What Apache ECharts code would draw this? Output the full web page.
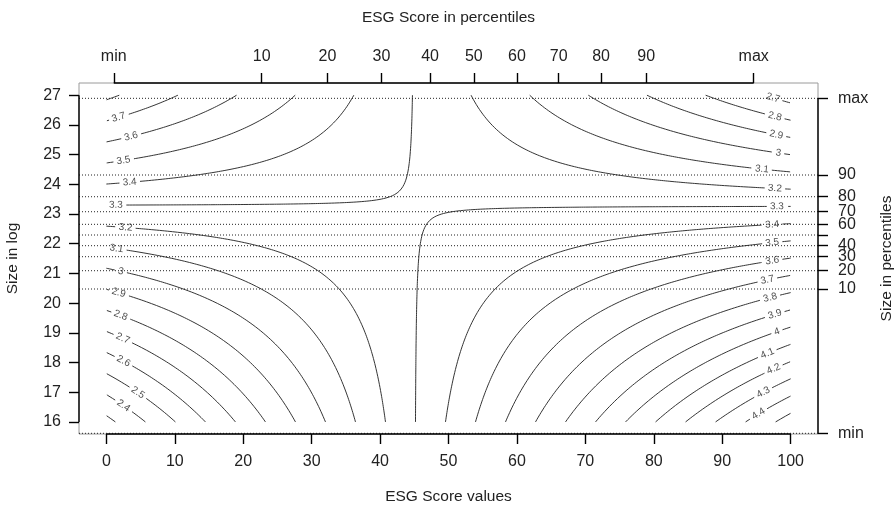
<!DOCTYPE html>
<html><head><meta charset="utf-8">
<script src="https://cdn.jsdelivr.net/npm/echarts@6/dist/echarts.min.js"></script>
<style>html,body{margin:0;padding:0;background:#fff}#c{width:895px;height:511px}</style>
</head><body><div id="c"></div>
<script>
// ---------------- data ----------------
// fitted surface: predicted value at the corners of the (ESG score, size in log) grid
const esgGrid = [0, 100];
const sizeGrid = [16, 27];
const predicted = [[2.270, 3.822], [4.550, 2.655]]; // predicted[esgIndex][sizeIndex]
const levels = [2.3, 2.4, 2.5, 2.6, 2.7, 2.8, 2.9, 3, 3.1, 3.2, 3.3, 3.4, 3.5, 3.6, 3.7, 3.8, 3.9, 4, 4.1, 4.2, 4.3, 4.4, 4.5];
const esgTickValues = [0, 10, 20, 30, 40, 50, 60, 70, 80, 90, 100];
const sizeTickValues = [16, 17, 18, 19, 20, 21, 22, 23, 24, 25, 26, 27];
const esgPctLabels = ['min', '10', '20', '30', '40', '50', '60', '70', '80', '90', 'max'];
const esgPctValues = [1.08, 22.7, 32.3, 40.2, 47.3, 53.7, 60.0, 66.1, 72.3, 78.9, 94.6];
const sizePctLabels = ['min', '10', '20', '30', '40', '50', '60', '70', '80', '90', 'max'];
const sizePctValues = [15.616, 20.475, 21.091, 21.562, 21.933, 22.293, 22.653, 23.077, 23.582, 24.313, 26.895];

// ---------------- placement / style (not data) ----------------
const hiddenSizePctLabels = ['50'];
const labelLeftX = {'2.4':2.5,'2.5':4.6,'2.6':2.5,'2.7':2.4,'2.8':2.1,'2.9':1.8,'3':2.1,'3.1':1.5,'3.2':2.8,'3.3':1.4,'3.4':3.4,'3.5':2.5,'3.6':3.6,'3.7':1.8};
const labelRightX = {'2.7':97.4,'2.8':97.7,'2.9':97.9,'3':98.2,'3.1':95.8,'3.2':97.7,'3.3':98.0,'3.4':97.3,'3.5':97.3,'3.6':97.3,'3.7':96.6,'3.8':97.0,'3.9':97.7,'4':98.0,'4.1':96.6,'4.2':97.5,'4.3':96.0,'4.4':95.3};
const XMIN = -4, XMAX = 104, YMIN = 15.593, YMAX = 27.411;
const FONT = '"Liberation Sans", Arial, Helvetica, sans-serif';
const TXT = {color:'#222', fontSize:16, fontFamily:FONT};
const TITLE = {color:'#222', fontSize:15.5, fontFamily:FONT};
const LBL_FONT = 10;

function pick(values, labels, v){
  let bi = 0;
  for (let i = 1; i < values.length; i++) if (Math.abs(values[i]-v) < Math.abs(values[bi]-v)) bi = i;
  return labels[bi];
}

const chart = echarts.init(document.getElementById('c'), null, {renderer:'canvas', width:895, height:511});
const tickStyle = {color:'#000', width:1.4};
const noLine = {show:false, onZero:false};
chart.setOption({
  animation:false,
  backgroundColor:'#fff',
  grid:{left:79, right:77, top:83, bottom:77, show:true, borderColor:'#9a9a9a', borderWidth:1, backgroundColor:'#fff',
        containLabel:false, outerBoundsMode:'none'},
  xAxis:[
    {type:'value', position:'bottom', min:XMIN, max:XMAX,
     name:'ESG Score values', nameLocation:'middle', nameGap:55, nameTextStyle:TITLE,
     axisLine:noLine, splitLine:{show:false},
     axisTick:{show:true, length:10, customValues:esgTickValues, lineStyle:tickStyle},
     axisLabel:{customValues:esgTickValues, margin:20, ...TXT}},
    {type:'value', position:'top', min:XMIN, max:XMAX,
     name:'ESG Score in percentiles', nameLocation:'middle', nameGap:57, nameTextStyle:TITLE,
     axisLine:noLine, splitLine:{show:false},
     axisTick:{show:true, length:10, customValues:esgPctValues, lineStyle:tickStyle},
     axisLabel:{customValues:esgPctValues, margin:18, ...TXT, formatter:v=>pick(esgPctValues, esgPctLabels, v)}}
  ],
  yAxis:[
    {type:'value', position:'left', min:YMIN, max:YMAX,
     name:'Size in log', nameLocation:'middle', nameGap:58, nameRotate:90, nameTextStyle:TITLE,
     axisLine:noLine, splitLine:{show:false},
     axisTick:{show:true, length:10, customValues:sizeTickValues, lineStyle:tickStyle},
     axisLabel:{customValues:sizeTickValues, margin:18, ...TXT}},
    {type:'value', position:'right', min:YMIN, max:YMAX,
     name:'Size in percentiles', nameLocation:'middle', nameGap:51, nameRotate:90, nameTextStyle:TITLE,
     axisLine:noLine, splitLine:{show:false},
     axisTick:{show:true, length:10, customValues:sizePctValues, lineStyle:tickStyle},
     axisLabel:{customValues:sizePctValues, margin:20, ...TXT, lineHeight:13,
       formatter:v=>{const t = pick(sizePctValues, sizePctLabels, v); return hiddenSizePctLabels.includes(t) ? '' : t;}}}
  ]
});

// ---------------- contour lines of the fitted (bilinear) surface ----------------
const z00 = predicted[0][0], z01 = predicted[0][1], z10 = predicted[1][0], z11 = predicted[1][1];
const A = z10 - z00, B = z01 - z00, D = z00 - z10 - z01 + z11;
const u0 = -B / D, v0 = -A / D;
const zs = z00 + A*u0 + B*v0 + D*u0*v0;
const toData = (u, v) => [esgGrid[0] + u*(esgGrid[1]-esgGrid[0]), sizeGrid[0] + v*(sizeGrid[1]-sizeGrid[0])];
const P = p => chart.convertToPixel({gridIndex:0}, p);

const ctx = document.createElement('canvas').getContext('2d');
ctx.font = LBL_FONT + 'px ' + FONT;

const series = [];
const labelItems = [];
const lineStyle = {color:'#1e1e1e', width:0.9};

function mkLine(data){
  return {type:'line', xAxisIndex:0, yAxisIndex:0, data:data, showSymbol:false, symbol:'none',
          lineStyle:lineStyle, silent:true, z:3, animation:false};
}

levels.forEach(L => {
  const key = String(Math.round(L*10)/10);
  const k = (L - zs) / D;
  if (Math.abs(k) < 1e-12) return;
  [-1, 1].forEach(s => {
    const amax = s > 0 ? 1 - u0 : u0;
    const amin = Math.abs(k) / ((k*s > 0) ? (1 - v0) : v0);
    if (!(amin < amax)) return;
    const N = 900, pts = [];
    for (let i = 0; i <= N; i++) {
      const a = amin * Math.pow(amax/amin, i/N);
      pts.push(toData(u0 + s*a, v0 + k/(s*a)));
    }
    const px = pts.map(P);
    const lx = s < 0 ? labelLeftX[key] : labelRightX[key];
    let idx = -1;
    if (lx !== undefined) {
      for (let i = 0; i < pts.length-1; i++) {
        if ((pts[i][0]-lx)*(pts[i+1][0]-lx) <= 0) { idx = i; break; }
      }
    }
    if (idx < 0) { series.push(mkLine(pts)); return; }
    const t = (lx - pts[idx][0]) / ((pts[idx+1][0] - pts[idx][0]) || 1);
    const dp = [lx, pts[idx][1] + t*(pts[idx+1][1]-pts[idx][1])];
    const cp = P(dp);
    const dist = q => Math.hypot(q[0]-cp[0], q[1]-cp[1]);
    let ia = idx, ib = idx+1;
    while (ia > 0 && dist(px[ia]) < 6) ia--;
    while (ib < px.length-1 && dist(px[ib]) < 6) ib++;
    let ang = Math.atan2(-(px[ib][1]-px[ia][1]), px[ib][0]-px[ia][0]) * 180/Math.PI;
    if (ang > 90) ang -= 180; if (ang < -90) ang += 180;
    const w = ctx.measureText(key).width;
    const r = w/2 + 3;
    let cur = [];
    for (let i = 0; i < pts.length; i++) {
      if (dist(px[i]) < r) { if (cur.length > 1) series.push(mkLine(cur)); cur = []; }
      else cur.push(pts[i]);
    }
    if (cur.length > 1) series.push(mkLine(cur));
    labelItems.push({value:dp, label:{formatter:key, rotate:ang}});
  });
});

// dotted reference lines at the size percentiles
sizePctValues.forEach(v => {
  series.push({type:'line', xAxisIndex:0, yAxisIndex:0, data:[[XMIN, v], [XMAX, v]], showSymbol:false, symbol:'none',
    lineStyle:{color:'#222', width:1, type:[1, 2]}, silent:true, z:4, animation:false});
});

series.push({type:'scatter', xAxisIndex:0, yAxisIndex:0, data:labelItems, symbolSize:1,
  itemStyle:{color:'rgba(0,0,0,0)'}, silent:true, z:5,
  label:{show:true, position:'inside', fontSize:LBL_FONT, color:'#222', fontFamily:FONT}});

// axis lines spanning first to last tick (R style)
const seg = (p1, p2) => ({type:'line', silent:true, z:20,
  shape:{x1:p1[0], y1:p1[1], x2:p2[0], y2:p2[1]}, style:{stroke:'#000', lineWidth:1.4}});
const graphic = [
  seg(P([esgTickValues[0], YMIN]), P([esgTickValues[esgTickValues.length-1], YMIN])),
  seg(P([esgPctValues[0], YMAX]), P([esgPctValues[esgPctValues.length-1], YMAX])),
  seg(P([XMIN, sizeTickValues[0]]), P([XMIN, sizeTickValues[sizeTickValues.length-1]])),
  seg(P([XMAX, sizePctValues[0]]), P([XMAX, sizePctValues[sizePctValues.length-1]]))
];

chart.setOption({series:series, graphic:graphic});
</script></body></html>
